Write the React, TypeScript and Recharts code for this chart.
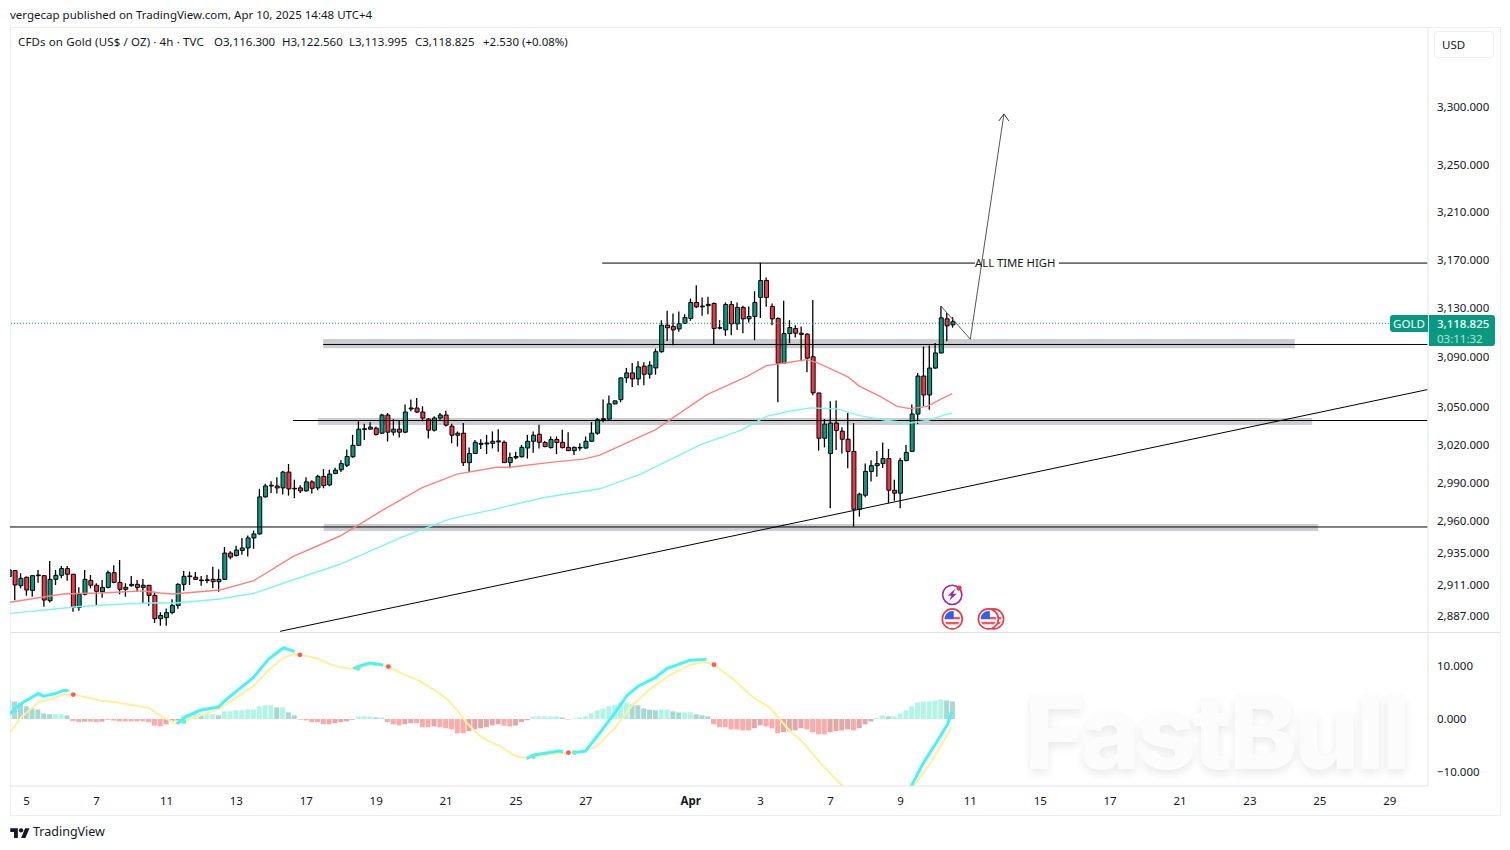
import { Bar, Cell, ComposedChart, Line, ReferenceArea, ReferenceDot, ReferenceLine, XAxis, YAxis } from 'recharts'

const FONT = '"Noto Sans", sans-serif'
const UP = '#089981'
const DOWN = '#f23645'
const GRID = '#e0e3eb'
const PALE = '#eceef3'
const TEXT = '#131722'

const opens = [
  2918, 2922.5, 2911, 2917.4, 2907.4, 2918.6, 2918.6, 2899.6, 2915.8, 2918.9,
  2924, 2919.7, 2894.5, 2904.4, 2915, 2911.3, 2906.4, 2909.7, 2920.9, 2913.5,
  2908.2, 2911, 2912, 2909.7, 2911.3, 2903.6, 2886, 2886.8, 2890.6, 2896,
  2912, 2917.9, 2917.4, 2914.8, 2915, 2915.8, 2914, 2915.8, 2935.9, 2934,
  2937.9, 2939.8, 2947.5, 2950.6, 2979.3, 2987.8, 2987.8, 2986.3, 2998.7, 2986,
  2986.3, 2984, 2991, 2986.3, 2995.3, 2988.6, 2997.6,
  3000.5, 3004, 3010.7, 3019.7, 3032.3, 3032.5, 3033.3, 3029.3, 3043.7, 3030.1,
  3032.5, 3030.1, 3048.5, 3049.3, 3046.1, 3040.5, 3031.7, 3041.3, 3043.7, 3034.9,
  3027.7, 3029.3, 3006.1, 3013.3, 3020.5, 3020.8, 3021.3, 3022.4, 3022.1, 3006.1,
  3009.9, 3010.7, 3017.6, 3022.9, 3028.5, 3021.9, 3017.9, 3024.3, 3022.1, 3018.1,
  3015.5, 3017.6, 3017.6, 3022.9, 3029.3, 3040, 3040.5, 3052.6, 3056, 3073.4,
  3077.4, 3072.6, 3082.8, 3076.3, 3081.4, 3094.5, 3116, 3115, 3113, 3117.4,
  3121.5, 3134.6, 3131, 3132, 3133.8, 3113.5, 3112.2, 3132.9, 3117.1, 3130.5,
  3121.2, 3123.1, 3138.7, 3152.6, 3131.3, 3121.5, 3085.2, 3109.2, 3113.3, 3109.5,
  3108.7, 3090.4, 3061.3, 3025.3, 3013.3, 3037.3, 3030.9, 3024.5, 3014.9, 2969.7,
  2980.6, 2999.2, 3003.7, 3005.3, 3009.3, 2984.5, 2982.2, 3007.7, 3014.9, 3044.5,
  3074.9, 3059.7, 3081.3, 3093.5, 3121.2, 3116.3,
]
const highs = [
  2924, 2923, 2920.4, 2917.9, 2918.8, 2923, 2919, 2929.8, 2923, 2926,
  2926, 2919.9, 2909.7, 2923, 2919.1, 2912.8, 2915.3, 2922.5, 2926.5, 2930.6,
  2912.8, 2918.4, 2915.3, 2916.1, 2911.5, 2906.4, 2890.9, 2893.7, 2900.6, 2912.8,
  2922.2, 2921.7, 2921.4, 2918.4, 2919.1, 2925.5, 2923.5, 2940.5, 2937.2, 2941.6,
  2947.5, 2949.3, 2953.2, 2985.5, 2989.6, 2991.5, 2994.6, 2999.7, 3005, 2992.7,
  2988.4, 2994.6, 2992.2, 2996.6, 3001, 3000.5, 3002,
  3008, 3016.5, 3028, 3038.7, 3036.8, 3037.9, 3034.7, 3044.8, 3045.3, 3040.5,
  3039.5, 3052, 3056, 3057.3, 3050.7, 3041.3, 3042.7, 3045.3, 3047.2, 3036.8,
  3030.7, 3037.3, 3017.9, 3024, 3024.5, 3028, 3030.7, 3032.5, 3023.5, 3014,
  3014.7, 3020, 3028, 3030.7, 3036, 3023.2, 3026.7, 3026.7, 3032, 3030.1,
  3018.7, 3021.3, 3026.7, 3038.1, 3041.3, 3056, 3059.3, 3055.3, 3073.5, 3081.4,
  3085.4, 3086.8, 3086, 3086.8, 3097, 3120.1, 3127.8, 3125.6, 3127.2, 3125,
  3137.8, 3148.7, 3138.7, 3139.2, 3134.6, 3120.1, 3134.6, 3135.7, 3134.6, 3131.9,
  3131.3, 3143.8, 3167.3, 3155, 3133.8, 3122.3, 3135.9, 3120.1, 3116, 3115,
  3109.5, 3136.5, 3061.5, 3040.5, 3054.7, 3055.2, 3034, 3045.3, 3037.3, 2982.5,
  3005.5, 3008, 3015.2, 3022, 3016.8, 2992.6, 3010, 3020, 3052, 3077.3,
  3098.7, 3099.5, 3101.6, 3131.6, 3126, 3122.56,
]
const lows = [
  2915, 2900, 2909, 2903.4, 2902.6, 2913.3, 2895, 2898.3, 2911.5, 2916.6,
  2914.8, 2891.2, 2892, 2903.6, 2909, 2896.3, 2901.9, 2909, 2912.8, 2904.4,
  2902.6, 2910.2, 2906.4, 2897.5, 2895.7, 2882.8, 2880.7, 2880.7, 2889.4, 2893.4,
  2907.2, 2911.5, 2915.3, 2911, 2912.8, 2909, 2906.4, 2915.3, 2931.2, 2933.3,
  2934.6, 2933.3, 2939.2, 2950.1, 2978.8, 2982.4, 2981.9, 2981.1, 2980.3, 2978.3,
  2982.4, 2983.4, 2981.9, 2984.5, 2986, 2987.6, 2996.9,
  2998.7, 3002.7, 3009.9, 3019.2, 3024, 3032, 3027.5, 3028.8, 3022.7, 3027.5,
  3025.9, 3029.3, 3046.7, 3045.3, 3038.7, 3025.1, 3030.7, 3040, 3034.7, 3021.3,
  3018.7, 3003.5, 2998.7, 3012.8, 3016.8, 3012.8, 3017.3, 3014.7, 3005.9, 3001.6,
  3008.8, 3010.1, 3009.3, 3013.9, 3017.3, 3018.1, 3017.3, 3012.8, 3017.3, 3015.2,
  3012, 3015.5, 3017, 3022.4, 3028, 3038, 3040, 3052.3, 3053.9, 3069.4,
  3066, 3067.5, 3067.5, 3072.9, 3076, 3093.7, 3103.2, 3099.7, 3110.6, 3117,
  3119.6, 3130, 3123.7, 3125, 3100.5, 3112.5, 3107.3, 3107.9, 3112, 3109.5,
  3118.2, 3103.8, 3121.8, 3131, 3116, 3053.9, 3085, 3101.3, 3106, 3086.8,
  3078, 3059.5, 3015.5, 3018.1, 2970.5, 3016, 3013.3, 3001.7, 2956.3, 2964,
  2979, 2991.3, 2995, 3001.8, 2974.4, 2976.2, 2970.5, 3007.2, 3014.7, 3036.5,
  3050.7, 3048, 3080.8, 3093, 3103, 3113.995,
]
const closes = [
  2923, 2911.5, 2916.6, 2907.7, 2918.6, 2919.1, 2900.1, 2915.8, 2918.9, 2924,
  2919.7, 2894.5, 2904.4, 2915.8, 2911.3, 2906.7, 2909.7, 2920.9, 2913.5, 2908.2,
  2909.7, 2912, 2909.7, 2911.3, 2903.6, 2886, 2888.4, 2890.6, 2896, 2912,
  2918.1, 2918.4, 2915.8, 2915.3, 2915.5, 2914, 2915.8, 2935.9, 2932.8, 2938.2,
  2939.8, 2947.5, 2950.6, 2979.3, 2987.8, 2988.4, 2986.3, 2998.7, 2985.5, 2985.5,
  2984, 2991, 2986, 2995.3, 2988.1, 2997.1, 3000.2,
  3005.3, 3010.9, 3019.7, 3032.5, 3032.8, 3034.1, 3028.3, 3043.7, 3030.1, 3032.5,
  3030.1, 3046.1, 3049.3, 3046.1, 3041.3, 3031.7, 3041.3, 3043.7, 3035.7, 3027.7,
  3029.3, 3006.1, 3013.3, 3022.1, 3021.3, 3021.6, 3022.9, 3023.2, 3006.1, 3010.1,
  3010.9, 3018.1, 3022.9, 3027.7, 3022.1, 3018.7, 3024.3, 3021.9, 3017.9, 3015.5,
  3018.1, 3018.1, 3022.9, 3029.3, 3040, 3040.8, 3052.6, 3055, 3073.4, 3077.4,
  3072.6, 3082.2, 3076.3, 3083.6, 3094.5, 3116, 3113.9, 3112.2, 3117.4, 3122.3,
  3134.6, 3131, 3131.6, 3133, 3113.3, 3114, 3132.9, 3117.1, 3130.5, 3121.2,
  3123.1, 3134.6, 3152.6, 3138.7, 3121.2, 3085.2, 3109.2, 3114.1, 3109.5, 3108.5,
  3089.3, 3061.4, 3025.3, 3036.5, 3037.3, 3031.5, 3024.5, 3014.9, 2969.7, 2981.4,
  2999.2, 3003.7, 3005.3, 3009.3, 2984.5, 2982.2, 3007.7, 3014.1, 3044.5, 3074.9,
  3059.7, 3081.3, 3093.5, 3122, 3115.5, 3118.825,
]
const histogram = [
  3.7, 3.3, 3, 2.4, 2, 1.8, 1.07, 0.9, 0.9, 0.95,
  0.7, -0.4, -0.6, -0.5, -0.5, -0.6, -0.5, -0.15, -0.3, -0.45,
  -0.45, -0.45, -0.45, -0.45, -0.6, -1.25, -1.4, -1, -0.35, -0.3,
  0.7, 0.9, 0.95, 0.9, 0.9, 0.9, 0.7, 1.45, 1.45, 1.65,
  1.65, 1.8, 1.8, 2.4, 2.6, 2.6, 2.2, 2.2, 1.25, 0.7,
  -0.12, -0.25, -0.6, -0.6, -1, -1, -0.8, -0.6, -0.45, -0.15,
  0.5, 0.5, 0.5, 0.3, 0.3, -0.6, -1, -1.2, -1, -0.8,
  -0.8, -1.55, -1.55, -1.4, -1.55, -1.75, -1.95, -2.7, -2.7, -2.3,
  -1.95, -1.75, -1.55, -1.2, -1, -1.25, -1.4, -1.25, -0.6, -0.25,
  0.5, 0.5, 0.5, 0.5, 0.5, 0.3, -0.1, 0.1, 0.3, 0.5,
  1.05, 1.65, 2, 2.4, 2.6, 3.15, 3.15, 2.75, 2.6, 2,
  1.8, 1.65, 1.8, 1.8, 1.45, 1.25, 1.25, 1.25, 0.9, 0.7,
  0.5, -1, -1.55, -1.55, -1.95, -1.95, -2.15, -2.15, -1.75, -1.2,
  -1.4, -1.75, -2.7, -2.5, -2.3, -2.15, -1.75, -1.95, -2.5, -2.9,
  -2.9, -2.5, -2.3, -2.15, -1.95, -2.15, -1.75, -1, -0.45, 0.25,
  0.7, 0.5, 0.5, 1.05, 1.65, 2.4, 3.15, 3.3, 3.3, 3.5,
  3.7, 3.5, 3.3,
]

const slowAverage = [
  [0.14, 2898.4], [7, 2903.1], [9.2, 2904.7], [15.6, 2905.4], [23, 2907], [25.9, 2905.4], [28.1, 2904.7],
  [36.2, 2907.7], [42, 2914.8], [48.7, 2933.2], [56.8, 2949], [64.2, 2969.2], [70.9, 2986.6], [76.9, 2997.1],
  [83.7, 3002.5], [86, 3002.5], [92.9, 3006.3], [98.5, 3008.8], [101.4, 3012], [110.9, 3032], [119.8, 3060],
  [126.7, 3074.6], [130, 3083.3], [134, 3086], [136.9, 3088.1], [138.7, 3085.7], [144, 3074.2], [146, 3066.6],
  [149.5, 3058.6], [152.4, 3050.6], [154.7, 3048.8], [157.6, 3050.6], [159.8, 3056], [161.9, 3060.8],
]
const longAverage = [
  [0.14, 2890], [6.1, 2892.5], [11.6, 2895], [20.2, 2897.3], [25.9, 2898], [28.1, 2897.6], [36.2, 2900.9],
  [42, 2905.2], [48.7, 2915.3], [56.8, 2927.3], [67.1, 2947.5], [75.7, 2962.2], [82.9, 2969.2], [91.6, 2978.6],
  [101.4, 2985.6], [108.5, 2997.2], [118.6, 3020], [125.8, 3032], [130, 3042.7], [134, 3046.7], [137.5, 3049.4],
  [142.1, 3048.6], [146, 3043.2], [150.7, 3039.4], [154.7, 3037.4], [157.6, 3039.4], [159.8, 3042.7], [161.9, 3045.4],
]
const signalLine = [
  [0.14, -2.6], [2, 0.25], [5, 3.1], [7.9, 4], [9.3, 4.65], [11, 4.6], [13.6, 4], [15.9, 3.4], [18.2, 3.2],
  [20.7, 2.7], [23.9, 2.15], [26.5, 0.25], [28.8, -0.9], [31.6, 0.25], [35.9, 1.8], [38.5, 3.7], [41.9, 6.2],
  [44.5, 9.2], [47.1, 11.6], [48.8, 12.2], [49.9, 12.1], [52.8, 11.45], [55.1, 10.3], [56.8, 9.75], [58.8, 9.5],
  [60.8, 9.95], [63.1, 10.25], [65.1, 9.9], [67.7, 8.4], [70.2, 7.35], [72.8, 5.6], [75.1, 3.85], [76.8, 1.8],
  [78.5, -0.7], [80.8, -3.2], [82.8, -4.45], [84.3, -5.1], [86.6, -6.8], [88, -7.25], [90, -7.1], [92.8, -6.65],
  [95.7, -6.35], [98.6, -6.2], [100.9, -5.1], [104, -1.65], [107.1, 2.75], [110, 5.6], [113.4, 8.3], [116.9, 10.2],
  [119.2, 10.8], [120.9, 10.3], [124.3, 7.5], [127.8, 4], [130.6, 2.15], [133.5, -1.65], [136.3, -4.45],
  [139.2, -8.2], [143.2, -12.8], [146, -16], [150, -19], [153, -17.5], [155.2, -12.8], [157.8, -8.9], [161.8, -1.5],
]
const macdRising = [
  [[0.14, 1], [2.1, 2.95], [5, 4.8], [5.9, 4.3], [7.9, 4.8], [9.3, 5.4], [10.2, 5.4]],
  [[28.8, -0.9], [30.5, 0.55], [32.8, 1.65], [35.9, 2.25], [37.3, 3.7], [41.9, 7.8], [44.5, 11.25], [47.1, 13.45], [49, 12.7]],
  [[59.1, 9.5], [60.2, 10], [61.9, 10.55], [64.2, 10.2]],
  [[88.8, -7.5], [90, -6.8], [91.7, -6.5], [94.3, -6.05], [95.1, -6.15]],
  [[96.9, -6.35], [98.9, -6.05], [101.4, -2.6], [104, 1.2], [106, 4.35], [108, 6.2], [110.9, 7.8], [112.9, 9.5], [116.9, 11.1], [119.7, 11.25]],
  [[153.9, -14.8], [154.8, -12.8], [156.8, -8.55], [158.8, -5.1], [161.1, -1], [161.8, 1.4]],
]
const crossDown = [[11, 4.6], [49.9, 12.1], [65.1, 9.9], [96, -6.35], [121, 10.25]]
const crossUp = [[30, -0.5], [59.9, 9.55], [90, -7.1], [97, -6.35]]

const forecastPath = [[160, 3131.2], [165, 3104.3], [170.77, 3293.5]]
const forecastHead = [[169.9, 3287.5], [170.77, 3293.5], [171.6, 3287.5]]
const allTimeHigh = 3167
const lastPriceLine = 3117.3
const supportZones = [
  { from: 53.9, to: 220.7, top: 3104.5, bottom: 3097, level: 3100, lineFrom: 53.9 },
  { from: 53, to: 223.7, top: 3040.7, bottom: 3035.2, level: 3038.7, lineFrom: 48.7 },
  { from: 54, to: 224.7, top: 2957.2, bottom: 2951.8, level: 2954.9, lineFrom: 0.14 },
]

const priceTicks = [2887, 2911, 2935, 2960, 2990, 3020, 3050, 3090, 3130, 3170, 3210, 3250, 3300]
const macdTicks = [-10, 0, 10]
const dateTicks = [3, 15, 27, 39, 51, 63, 75, 87, 99, 117, 129, 141, 153, 165, 177, 189, 201, 213, 225, 237]
const dateLabels = ['5', '7', '11', '13', '17', '19', '21', '25', '27', 'Apr', '3', '7', '9', '11', '15', '17', '21', '23', '25', '29']

const BAR_DOMAIN: [number, number] = [0.14, 243.57]

// my readings below the 3,170 line drifted a little high against the axis, so pull them back
const settle = (price: number) => (price < 3170 ? price - 0.005 * (3170 - price) : price)

const candles = opens.map((open, bar) => ({
  bar,
  wick: [settle(lows[bar]), settle(highs[bar])],
  body: [settle(Math.min(open, closes[bar])), settle(Math.max(open, closes[bar]))],
  up: closes[bar] >= open,
}))
const histRows = histogram.map((hist, bar) => ({ bar, hist }))
const toPoints = (rows: number[][]) => rows.map(([bar, value]) => ({ bar, value }))
const toPricePoints = (rows: number[][]) => rows.map(([bar, value]) => ({ bar, value: settle(value) }))
const macdRows = macdRising.flatMap((part) => [...toPoints(part), { bar: part[part.length - 1][0] + 0.01, value: null }])

function histColor(value: number, prev: number) {
  if (value >= 0) return value >= prev ? '#b2f5e5' : '#a7d8d3'
  return value <= prev ? '#ffa9a9' : '#e2a8a8'
}

function formatPrice(value: number) {
  return value.toLocaleString('en-US', { minimumFractionDigits: 3, maximumFractionDigits: 3 })
}

function DateTick({ x, y, payload }: any) {
  const label = dateLabels[dateTicks.indexOf(payload.value)]
  return (
    <text x={x} y={y + 11} textAnchor="middle" fontSize={11.5} fontFamily={FONT} fill={TEXT} fontWeight={label === 'Apr' ? 700 : 400}>
      {label}
    </text>
  )
}

function FlagIcon({ cx, cy, id }: any) {
  return (
    <g>
      <circle cx={cx} cy={cy} r={10} fill="#fff" stroke={DOWN} strokeWidth={1.6} />
      <clipPath id={id}>
        <circle cx={cx} cy={cy} r={7.8} />
      </clipPath>
      <g clipPath={`url(#${id})`}>
        <rect x={cx - 8} y={cy - 8} width={16} height={16} fill="#fff" />
        <rect x={cx - 8} y={cy - 2} width={16} height={2.4} fill="#f2545b" />
        <rect x={cx - 8} y={cy + 3} width={16} height={2.4} fill="#f2545b" />
        <rect x={cx - 8} y={cy - 8} width={9.5} height={8} fill="#2962ff" />
      </g>
    </g>
  )
}

function BoltIcon({ cx, cy }: any) {
  return (
    <g>
      <circle cx={cx} cy={cy} r={9.6} fill="#fff" stroke="#9c27b0" strokeWidth={1.6} />
      <path d={`M${cx + 3} ${cy - 6}L${cx - 4.5} ${cy + 1}H${cx - 0.8}L${cx - 3} ${cy + 6}L${cx + 4.5} ${cy - 1}H${cx + 0.8}Z`} fill="#9c27b0" />
      <circle cx={cx + 6.8} cy={cy - 6.8} r={2.6} fill={DOWN} />
    </g>
  )
}

function PriceChart() {
  return (
    <ComposedChart width={1510} height={632} data={candles} margin={{ top: 27, right: 0, bottom: 0, left: 10 }}>
      <XAxis dataKey="bar" type="number" domain={BAR_DOMAIN} allowDataOverflow hide />
      <XAxis xAxisId="wick" dataKey="bar" type="number" domain={BAR_DOMAIN} allowDataOverflow hide />
      <XAxis xAxisId="body" dataKey="bar" type="number" domain={BAR_DOMAIN} allowDataOverflow hide />
      <YAxis
        orientation="right"
        type="number"
        scale="log"
        domain={[2874.5, 3369.6]}
        allowDataOverflow
        ticks={priceTicks}
        interval={0}
        width={82}
        tickFormatter={formatPrice}
        tickLine={false}
        axisLine={{ stroke: GRID }}
        tick={{ fontSize: 11.5, fontFamily: FONT, fill: TEXT, textAnchor: 'start', dy: 0.5 }}
        tickMargin={3}
      />
      {supportZones.map((zone) => (
        <ReferenceArea key={zone.level} x1={zone.from} x2={zone.to} y1={zone.bottom} y2={zone.top} fill="#787b86" fillOpacity={0.38} stroke="none" />
      ))}
      {supportZones.map((zone) => (
        <ReferenceLine
          key={zone.level}
          segment={[{ x: zone.lineFrom, y: zone.level }, { x: 243.5, y: zone.level }]}
          stroke="#000"
          strokeWidth={1}
        />
      ))}
      <ReferenceLine segment={[{ x: 101.8, y: allTimeHigh }, { x: 165.8, y: allTimeHigh }]} stroke="#000" strokeWidth={1} />
      <ReferenceLine segment={[{ x: 180.2, y: allTimeHigh }, { x: 243.5, y: allTimeHigh }]} stroke="#000" strokeWidth={1} />
      <ReferenceLine segment={[{ x: 46.5, y: 2875 }, { x: 243.5, y: 3063.5 }]} stroke="#000" strokeWidth={1} />
      <ReferenceLine y={lastPriceLine} stroke={UP} strokeWidth={1} strokeDasharray="1 2" />

      <Line data={toPricePoints(slowAverage)} dataKey="value" stroke="#ff8080" strokeWidth={1.4} dot={false} isAnimationActive={false} />
      <Line data={toPricePoints(longAverage)} dataKey="value" stroke="#7df5f0" strokeWidth={1.4} dot={false} isAnimationActive={false} />

      <Bar xAxisId="wick" dataKey="wick" barSize={1.3} fill="#000" isAnimationActive={false} />
      <Bar xAxisId="body" dataKey="body" barSize={4} stroke="#000" strokeWidth={1} isAnimationActive={false}>
        {candles.map((row) => (
          <Cell key={row.bar} fill={row.up ? UP : DOWN} />
        ))}
      </Bar>

      <Line data={toPoints(forecastPath)} dataKey="value" stroke="#555" strokeWidth={1} dot={false} isAnimationActive={false} />
      <Line data={toPoints(forecastHead)} dataKey="value" stroke="#333" strokeWidth={1} dot={false} isAnimationActive={false} />

      <ReferenceDot x={161.9} y={2902.7} r={0} shape={(p: any) => <BoltIcon cx={p.cx} cy={p.cy} />} />
      <ReferenceDot x={161.9} y={2884.4} r={0} shape={(p: any) => <FlagIcon cx={p.cx} cy={p.cy} id="flag-a" />} />
      <ReferenceDot x={169} y={2884.4} r={0} shape={(p: any) => <FlagIcon cx={p.cx} cy={p.cy} id="flag-b" />} />
      <ReferenceDot x={168.1} y={2884.4} r={0} shape={(p: any) => <FlagIcon cx={p.cx} cy={p.cy} id="flag-c" />} />
    </ComposedChart>
  )
}

function MacdChart() {
  return (
    <ComposedChart width={1510} height={183} data={histRows} margin={{ top: 0, right: 0, bottom: 0, left: 10 }}>
      <XAxis
        dataKey="bar"
        type="number"
        domain={BAR_DOMAIN}
        allowDataOverflow
        ticks={dateTicks}
        interval={0}
        height={29}
        tick={<DateTick />}
        tickLine={false}
        axisLine={{ stroke: GRID }}
      />
      <XAxis xAxisId="hist" dataKey="bar" type="number" domain={BAR_DOMAIN} allowDataOverflow hide />
      <YAxis
        orientation="right"
        type="number"
        domain={[-12.64, 16.415]}
        allowDataOverflow
        ticks={macdTicks}
        interval={0}
        width={82}
        tickFormatter={(v: number) => (v < 0 ? '\u2212' : '') + Math.abs(v).toFixed(3)}
        tickLine={false}
        axisLine={{ stroke: GRID }}
        tick={{ fontSize: 11.5, fontFamily: FONT, fill: TEXT, textAnchor: 'start', dy: -0.5 }}
        tickMargin={3}
      />
      <Bar xAxisId="hist" dataKey="hist" barSize={5} isAnimationActive={false}>
        {histRows.map((row) => (
          <Cell key={row.bar} fill={histColor(row.hist, row.bar ? histogram[row.bar - 1] : 0)} />
        ))}
      </Bar>
      <Line data={toPoints(signalLine)} dataKey="value" stroke="#fff09a" strokeWidth={2} dot={false} isAnimationActive={false} />
      <Line data={macdRows} dataKey="value" stroke="#45f4f6" strokeWidth={3} dot={false} connectNulls={false} isAnimationActive={false} />
      <Line data={toPoints(crossUp)} dataKey="value" stroke="none" dot={{ r: 2.4, fill: '#6ff0c4', stroke: 'none' }} isAnimationActive={false} />
      <Line data={toPoints(crossDown)} dataKey="value" stroke="none" dot={{ r: 2.4, fill: '#ff5a52', stroke: 'none' }} isAnimationActive={false} />
    </ComposedChart>
  )
}

const abs = (left: number, top: number, extra: object = {}) => ({ position: 'absolute' as const, left, top, ...extra })

export default function App() {
  return (
    <div style={abs(0, 0, { width: 1510, height: 850, background: '#fff', overflow: 'hidden', fontFamily: FONT, color: TEXT, fontSize: 11.5 })}>
      <div
        style={abs(1025, 690, {
          fontFamily: 'Inter',
          fontSize: 102,
          fontWeight: 800,
          color: '#fcfcfc',
          letterSpacing: -3,
          lineHeight: '84px',
          textShadow: '0 4px 10px rgba(0,0,0,0.09)',
        })}
      >
        FastBull
      </div>
      <div style={abs(10, 27, { width: 1489, height: 787, border: `1px solid ${PALE}` })} />
      <div style={abs(10, 632, { width: 1490, height: 1, background: GRID })} />

      <div style={abs(0, 0)}><PriceChart /></div>
      <div style={abs(0, 632)}><MacdChart /></div>

      <div style={abs(10, 7, { lineHeight: '16px', whiteSpace: 'nowrap' })}>vergecap published on TradingView.com, Apr 10, 2025 14:48 UTC+4</div>
      <div style={abs(18, 34, { lineHeight: '16px', whiteSpace: 'nowrap', letterSpacing: 0.12 })}>CFDs on Gold (US$ / OZ) · 4h · TVC</div>
      <div style={abs(214, 34, { lineHeight: '16px' })}>O3,116.300</div>
      <div style={abs(282, 34, { lineHeight: '16px' })}>H3,122.560</div>
      <div style={abs(349, 34, { lineHeight: '16px' })}>L3,113.995</div>
      <div style={abs(415, 34, { lineHeight: '16px' })}>C3,118.825</div>
      <div style={abs(483, 34, { lineHeight: '16px', whiteSpace: 'nowrap' })}>+2.530 (+0.08%)</div>
      <div style={abs(975, 255, { lineHeight: '16px', whiteSpace: 'nowrap', fontSize: 11.3 })}>ALL TIME HIGH</div>

      <div style={abs(1434, 31, { width: 58, height: 25, border: `1px solid ${PALE}`, borderRadius: 4, lineHeight: '25px', textIndent: 7 })}>USD</div>

      <div style={abs(1390, 315, { width: 38, height: 17, background: UP, color: '#fff', borderRadius: '3px 0 0 3px', textAlign: 'center', lineHeight: '17px', fontSize: 11.5 })}>GOLD</div>
      <div style={abs(1429, 315, { width: 66, height: 31, background: UP, color: '#fff', borderRadius: '0 3px 3px 0', textIndent: 8, lineHeight: '15px', fontSize: 11.5, paddingTop: 1, boxSizing: 'border-box' })}>
        <div style={{ fontWeight: 500 }}>3,118.825</div>
        <div style={{ opacity: 0.7 }}>03:11:32</div>
      </div>

      <svg style={abs(10, 826)} width={20} height={13} viewBox="0 0 36 24">
        <path d="M14 22H7V11H0V4h14v18zM28 22h-8l7.5-18h8L28 22z" fill="#131722" />
        <circle cx="20" cy="8" r="4" fill="#131722" />
      </svg>
      <div style={abs(33, 824, { fontSize: 12.5, lineHeight: '16px' })}>TradingView</div>
    </div>
  )
}
